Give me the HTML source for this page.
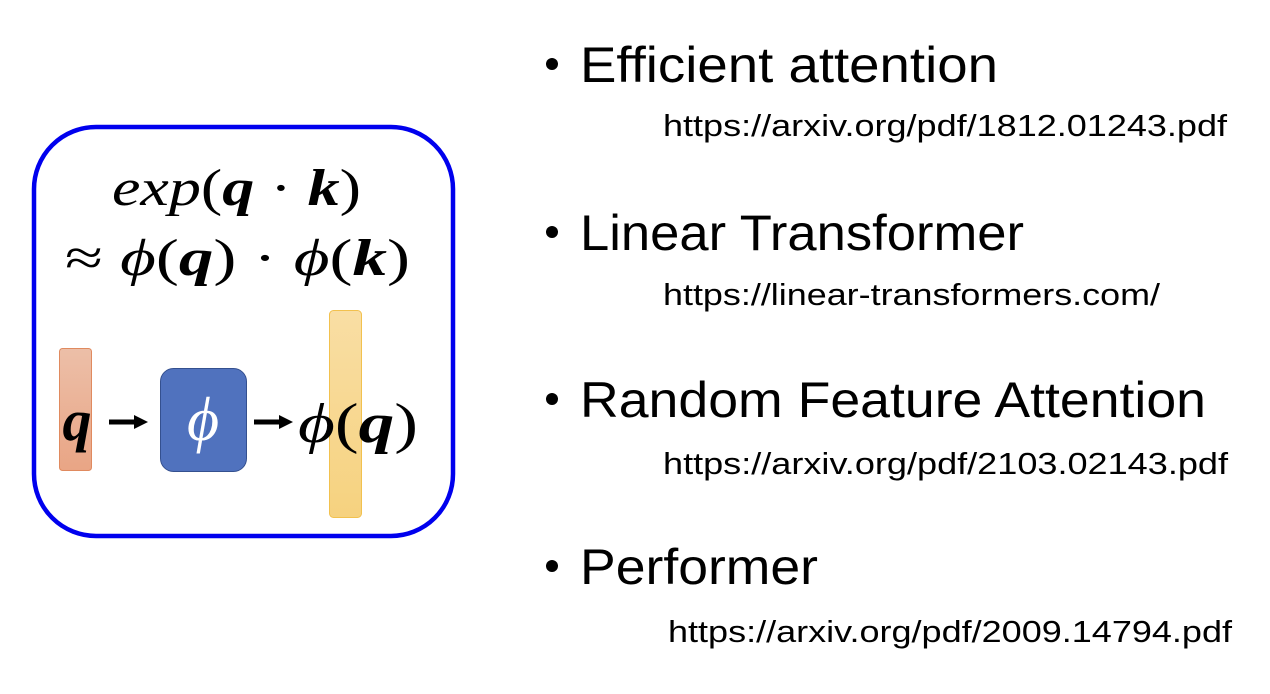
<!DOCTYPE html>
<html><head><style>html,body{margin:0;padding:0;background:#fff}svg{display:block}</style></head>
<body>
<svg width="1270" height="694" viewBox="0 0 1270 694" xmlns="http://www.w3.org/2000/svg">
<defs>
<linearGradient id="gq" x1="0" y1="0" x2="0" y2="1"><stop offset="0" stop-color="#ecbfa8"/><stop offset="1" stop-color="#e9a585"/></linearGradient>
<linearGradient id="gy" x1="0" y1="0" x2="0" y2="1"><stop offset="0" stop-color="#f9dea4"/><stop offset="1" stop-color="#f6d27f"/></linearGradient>
</defs>
<rect x="34" y="127" width="419" height="409" rx="62" fill="#fff" stroke="#0000ee" stroke-width="4.5"/>
<g font-family="Liberation Serif, serif" font-size="52">
<text x="112" y="205" textLength="249" lengthAdjust="spacingAndGlyphs"><tspan font-style="italic">exp</tspan>(<tspan font-weight="bold" font-style="italic">q</tspan> · <tspan font-weight="bold" font-style="italic">k</tspan>)</text>
<text x="65" y="275" textLength="345" lengthAdjust="spacingAndGlyphs">≈ <tspan font-style="italic">ϕ</tspan>(<tspan font-weight="bold" font-style="italic">q</tspan>) · <tspan font-style="italic">ϕ</tspan>(<tspan font-weight="bold" font-style="italic">k</tspan>)</text>
</g>
<rect x="59.5" y="348.5" width="32" height="122" rx="3" fill="url(#gq)" stroke="#e08a5f"/>
<rect x="329.5" y="310.5" width="32" height="207" rx="4" fill="url(#gy)" stroke="#f2c14e"/>
<rect x="160.5" y="368.5" width="86" height="103" rx="13" fill="#5072be" stroke="#34508f"/>
<text x="77" y="440" font-family="Liberation Serif, serif" font-size="58" font-weight="bold" font-style="italic" text-anchor="middle">q</text>
<text x="203" y="440" font-family="Liberation Serif, serif" font-size="62" font-style="italic" fill="#fff" text-anchor="middle">ϕ</text>
<path d="M109 422h27" stroke="#000" stroke-width="5"/><path d="M134 415l14 7l-14 7z"/>
<path d="M254 422h27" stroke="#000" stroke-width="5"/><path d="M279 415l14 7l-14 7z"/>
<text x="298" y="442" font-family="Liberation Serif, serif" font-size="56" textLength="120" lengthAdjust="spacingAndGlyphs"><tspan font-style="italic">ϕ</tspan>(<tspan font-weight="bold" font-style="italic">q</tspan>)</text>
<g font-family="Liberation Sans, sans-serif" fill="#000">
<circle cx="552" cy="64" r="6"/>
<text x="580" y="82" font-size="50" textLength="418" lengthAdjust="spacingAndGlyphs">Efficient attention</text>
<text x="663" y="136" font-size="31" textLength="564" lengthAdjust="spacingAndGlyphs">https://arxiv.org/pdf/1812.01243.pdf</text>
<circle cx="552" cy="232" r="6"/>
<text x="580" y="250" font-size="50" textLength="444" lengthAdjust="spacingAndGlyphs">Linear Transformer</text>
<text x="663" y="305" font-size="31" textLength="497" lengthAdjust="spacingAndGlyphs">https://linear-transformers.com/</text>
<circle cx="552" cy="399" r="6"/>
<text x="580" y="417" font-size="50" textLength="626" lengthAdjust="spacingAndGlyphs">Random Feature Attention</text>
<text x="663" y="474" font-size="31" textLength="565" lengthAdjust="spacingAndGlyphs">https://arxiv.org/pdf/2103.02143.pdf</text>
<circle cx="552" cy="566" r="6"/>
<text x="580" y="584" font-size="50" textLength="238" lengthAdjust="spacingAndGlyphs">Performer</text>
<text x="668" y="642" font-size="31" textLength="564" lengthAdjust="spacingAndGlyphs">https://arxiv.org/pdf/2009.14794.pdf</text>
</g>
</svg>
</body></html>
